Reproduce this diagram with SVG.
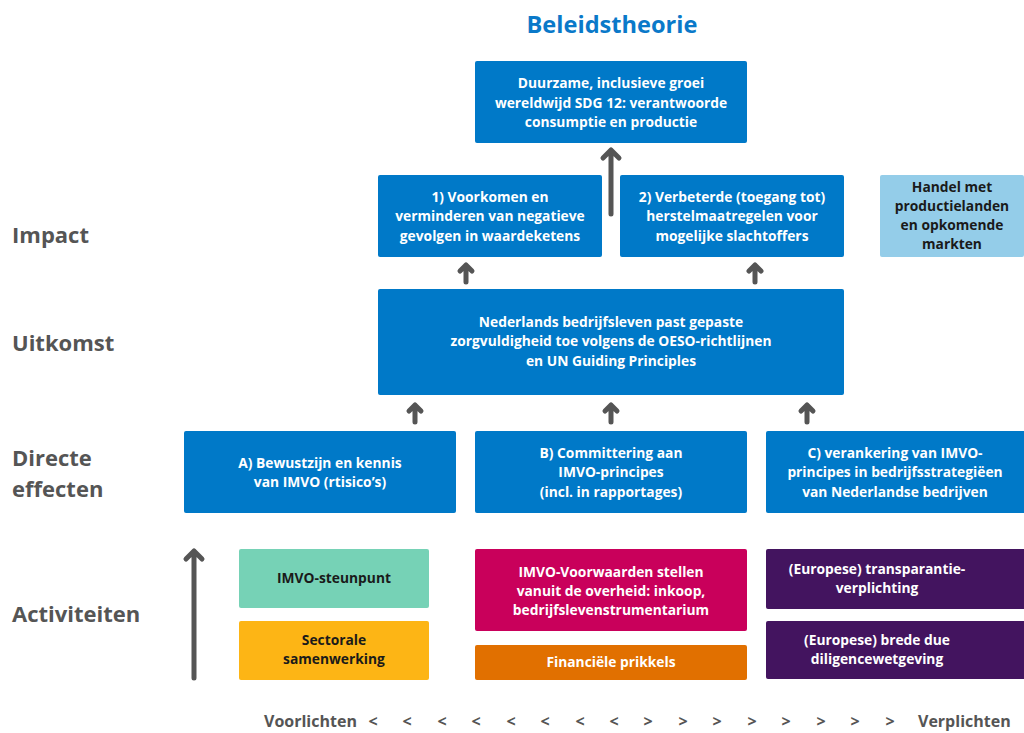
<svg xmlns="http://www.w3.org/2000/svg" width="1024" height="733" viewBox="0 0 1024 733">
<defs>
<style>
.box{stroke:none}
.blue{fill:#0079c8}
.lb{fill:#94cde9}
.teal{fill:#76d2b6}
.yel{fill:#fdb515}
.mag{fill:#c9005b}
.ora{fill:#e17000}
.pur{fill:#43145f}
.t{font-family:"Open Sans","Liberation Sans",sans-serif;font-weight:700;font-size:13.8px;text-anchor:middle}
.w{fill:#ffffff}
.k{fill:#1a1a1a}
.lab{font-family:"Open Sans","Liberation Sans",sans-serif;font-weight:700;font-size:22px;fill:#555555}
.bot{font-family:"Open Sans","Liberation Sans",sans-serif;font-weight:700;font-size:16px;fill:#555555}
.arr{fill:none;stroke:#555555;stroke-width:5;stroke-linecap:round;stroke-linejoin:round}
</style>
</defs>
<rect width="1024" height="733" fill="#ffffff"/>
<text x="612" y="33" font-family="'Open Sans','Liberation Sans',sans-serif" font-weight="700" font-size="23.6" fill="#0a79c9" text-anchor="middle">Beleidstheorie</text>

<g id="labels">
<text class="lab" x="12" y="243">Impact</text>
<text class="lab" x="12" y="351">Uitkomst</text>
<text class="lab" x="12" y="466">Directe</text>
<text class="lab" x="12" y="497">effecten</text>
<text class="lab" x="12" y="622">Activiteiten</text>
</g>

<g id="node-top">
<rect class="box blue" x="475" y="61" width="272" height="82" rx="2"/>
<text class="t w" x="611" y="88">Duurzame, inclusieve groei</text>
<text class="t w" x="611" y="108">wereldwijd SDG 12: verantwoorde</text>
<text class="t w" x="611" y="127">consumptie en productie</text>
</g>
<g id="node-impact1">
<rect class="box blue" x="378" y="175" width="224" height="82" rx="2"/>
<text class="t w" x="490" y="202">1) Voorkomen en</text>
<text class="t w" x="490" y="221">verminderen van negatieve</text>
<text class="t w" x="490" y="241">gevolgen in waardeketens</text>
</g>
<g id="node-impact2">
<rect class="box blue" x="620" y="175" width="224" height="82" rx="2"/>
<text class="t w" x="732" y="202">2) Verbeterde (toegang tot)</text>
<text class="t w" x="732" y="221">herstelmaatregelen voor</text>
<text class="t w" x="732" y="241">mogelijke slachtoffers</text>
</g>
<g id="node-handel">
<rect class="box lb" x="880" y="175" width="144" height="82" rx="2"/>
<text class="t k" x="952" y="192">Handel met</text>
<text class="t k" x="952" y="211">productielanden</text>
<text class="t k" x="952" y="230">en opkomende</text>
<text class="t k" x="952" y="249">markten</text>
</g>
<g id="node-uitkomst">
<rect class="box blue" x="378" y="289" width="466" height="106" rx="2"/>
<text class="t w" x="611" y="327">Nederlands bedrijfsleven past gepaste</text>
<text class="t w" x="611" y="346">zorgvuldigheid toe volgens de OESO-richtlijnen</text>
<text class="t w" x="611" y="366">en UN Guiding Principles</text>
</g>
<g id="node-A">
<rect class="box blue" x="184" y="431" width="272" height="82" rx="2"/>
<text class="t w" x="320" y="468">A) Bewustzijn en kennis</text>
<text class="t w" x="320" y="487">van IMVO (rtisico’s)</text>
</g>
<g id="node-B">
<rect class="box blue" x="475" y="431" width="272" height="82" rx="2"/>
<text class="t w" x="611" y="458">B) Committering aan</text>
<text class="t w" x="611" y="477">IMVO-principes</text>
<text class="t w" x="611" y="497">(incl. in rapportages)</text>
</g>
<g id="node-C">
<rect class="box blue" x="766" y="431" width="262" height="82" rx="2"/>
<text class="t w" x="895" y="458">C) verankering van IMVO-</text>
<text class="t w" x="895" y="477">principes in bedrijfsstrategiëen</text>
<text class="t w" x="895" y="497">van Nederlandse bedrijven</text>
</g>
<g id="node-steunpunt">
<rect class="box teal" x="239" y="549" width="190" height="59" rx="2"/>
<text class="t k" x="334" y="583">IMVO-steunpunt</text>
</g>
<g id="node-sectorale">
<rect class="box yel" x="239" y="621" width="190" height="59" rx="2"/>
<text class="t k" x="334" y="645">Sectorale</text>
<text class="t k" x="334" y="664">samenwerking</text>
</g>
<g id="node-voorwaarden">
<rect class="box mag" x="475" y="549" width="272" height="82" rx="2"/>
<text class="t w" x="611" y="577">IMVO-Voorwaarden stellen</text>
<text class="t w" x="611" y="596">vanuit de overheid: inkoop,</text>
<text class="t w" x="611" y="615">bedrijfslevenstrumentarium</text>
</g>
<g id="node-financiele">
<rect class="box ora" x="475" y="645" width="272" height="35" rx="2"/>
<text class="t w" x="611" y="667">Financiële prikkels</text>
</g>
<g id="node-transparantie">
<rect class="box pur" x="766" y="549" width="262" height="60" rx="2"/>
<text class="t w" x="877" y="574">(Europese) transparantie-</text>
<text class="t w" x="877" y="593">verplichting</text>
</g>
<g id="node-due">
<rect class="box pur" x="766" y="621" width="262" height="58" rx="2"/>
<text class="t w" x="877" y="645">(Europese) brede due</text>
<text class="t w" x="877" y="664">diligencewetgeving</text>
</g>

<g id="connectors">
<path class="arr" d="M194 678 V551 M186 559 L194 551 L202 559"/>
<path class="arr" d="M611 214 V150 M603 158 L611 150 L619 158"/>
<path class="arr" d="M466 282 V265 M460 271 L466 265 L472 271"/>
<path class="arr" d="M755 282 V265 M749 271 L755 265 L761 271"/>
<path class="arr" d="M415 422 V405 M409 411 L415 405 L421 411"/>
<path class="arr" d="M611 422 V405 M605 411 L611 405 L617 411"/>
<path class="arr" d="M807 422 V405 M801 411 L807 405 L813 411"/>
</g>

<g id="scale">
<text class="bot" x="264" y="727">Voorlichten</text>
<text class="bot" text-anchor="middle" x="373" y="727">&lt;</text>
<text class="bot" text-anchor="middle" x="407" y="727">&lt;</text>
<text class="bot" text-anchor="middle" x="442" y="727">&lt;</text>
<text class="bot" text-anchor="middle" x="476" y="727">&lt;</text>
<text class="bot" text-anchor="middle" x="511" y="727">&lt;</text>
<text class="bot" text-anchor="middle" x="545" y="727">&lt;</text>
<text class="bot" text-anchor="middle" x="580" y="727">&lt;</text>
<text class="bot" text-anchor="middle" x="614" y="727">&lt;</text>
<text class="bot" text-anchor="middle" x="648" y="727">&gt;</text>
<text class="bot" text-anchor="middle" x="683" y="727">&gt;</text>
<text class="bot" text-anchor="middle" x="717" y="727">&gt;</text>
<text class="bot" text-anchor="middle" x="752" y="727">&gt;</text>
<text class="bot" text-anchor="middle" x="786" y="727">&gt;</text>
<text class="bot" text-anchor="middle" x="821" y="727">&gt;</text>
<text class="bot" text-anchor="middle" x="855" y="727">&gt;</text>
<text class="bot" text-anchor="middle" x="890" y="727">&gt;</text>
<text class="bot" x="918" y="727">Verplichten</text>
</g>
</svg>
